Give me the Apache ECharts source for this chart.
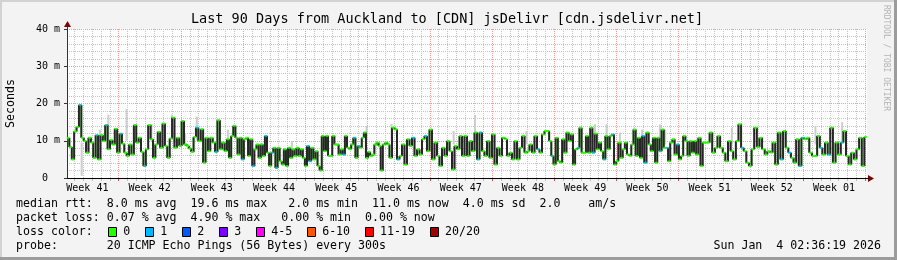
<!DOCTYPE html>
<html><head><meta charset="utf-8">
<script src="https://cdn.jsdelivr.net/npm/echarts@6/dist/echarts.min.js"></script>
<style>html,body{margin:0;padding:0;background:#f3f3f3;}#c{width:897px;height:260px;}</style>
</head><body><div id="c"></div>
<script>
// ---------- data ----------
const titleText = 'Last 90 Days from Auckland to [CDN] jsDelivr [cdn.jsdelivr.net]';
const weekLabels = ['Week 41','Week 42','Week 43','Week 44','Week 45','Week 46','Week 47','Week 48','Week 49','Week 50','Week 51','Week 52','Week 01'];
const yTickLabels = [' 0  ', '10 m', '20 m', '30 m', '40 m'];
// median rtt (ms), five consecutive 18-day segments
const segA = [10.8, 8.3, 5.0, 12.5, 13.7, 19.6, 10.8, 9.9, 6.8, 10.8,
 9.5, 5.4, 11.5, 5.0, 11.5, 9.9, 14.2, 7.7, 10.2, 9.0,
 13.2, 6.8, 11.9, 9.2, 6.8, 5.9, 9.0, 6.3, 14.2, 9.5,
 10.8, 7.0, 3.2, 7.7, 14.2, 10.4, 5.4, 9.0, 12.4, 8.1,
 14.6, 8.6, 5.4, 10.6, 16.2, 8.1, 10.8, 8.6, 15.3, 9.0,
 8.6, 7.9, 7.0, 11.0, 13.5, 9.9, 13.1, 4.1, 10.8, 7.2,
 10.8, 9.5, 7.0, 15.5, 7.7, 9.5, 7.2];
const segB = [10.4, 5.4, 11.3, 14.0, 10.8, 6.3, 10.8, 5.0, 10.4, 10.8,
 5.9, 10.4, 3.2, 7.7, 9.0, 5.4, 9.0, 5.9, 11.3, 6.8,
 3.2, 6.8, 8.1, 2.7, 8.1, 4.5, 3.6, 7.7, 3.2, 8.1,
 5.4, 7.7, 5.9, 8.1, 5.9, 7.7, 5.4, 3.2, 8.6, 4.5,
 8.1, 5.0, 7.2, 3.2, 2.0, 11.3, 7.2, 11.3, 5.9, 5.9,
 11.3, 9.0, 9.0, 6.3, 7.7, 6.3, 11.3, 8.1, 7.7, 9.0,
 10.8, 5.4, 8.6, 8.1, 10.8, 12.2, 5.4, 7.0, 5.9, 6.3,
 9.0, 9.5, 8.6, 2.0, 9.0, 9.5];
const segC = [9.0, 5.4, 13.5, 13.0, 5.0, 5.9, 9.0, 3.6, 10.4, 8.6,
 10.8, 5.9, 7.7, 6.3, 10.4, 11.3, 7.2, 13.0, 5.0, 9.5,
 5.9, 3.2, 8.1, 5.9, 9.9, 7.2, 2.3, 8.6, 7.7, 11.3,
 5.9, 11.3, 5.9, 9.9, 7.2, 12.2, 5.0, 12.2, 7.2, 5.9,
 9.9, 5.4, 11.7, 3.6, 8.1, 5.9, 10.8, 10.4, 5.9, 6.8,
 5.0, 9.9, 5.0, 8.1, 11.3, 6.8, 7.2, 9.0, 6.8, 11.3,
 7.7, 6.8, 11.7, 12.6];
const segD = [12.6, 9.9, 5.9, 3.6, 10.8, 4.5, 4.1, 10.4, 6.8, 12.2,
 9.9, 11.7, 3.6, 7.7, 8.1, 13.5, 6.8, 6.8, 11.3, 6.8,
 13.5, 6.8, 11.9, 7.7, 9.5, 7.2, 5.0, 11.3, 7.7, 11.3,
 11.7, 3.6, 4.5, 9.5, 5.4, 7.7, 9.5, 6.3, 5.9, 9.0,
 13.0, 5.9, 10.8, 5.4, 11.3, 4.1, 12.2, 9.0, 7.2, 10.8,
 4.1, 10.8, 7.2, 13.0, 8.1, 8.1, 4.5, 9.5, 10.4, 6.3,
 9.0, 5.0, 5.9, 11.3, 9.9, 5.9, 9.9, 6.8, 9.9, 6.3,
 10.8, 3.2, 9.5, 9.5];
const segE = [9.5, 12.2, 6.8, 8.1, 11.3, 8.1, 6.8, 4.5, 9.9, 7.2,
 5.0, 9.9, 14.4, 8.1, 7.2, 4.1, 3.2, 7.7, 13.5, 8.3,
 10.8, 7.7, 6.3, 7.2, 6.8, 9.5, 3.6, 12.2, 5.0, 12.6,
 8.1, 6.8, 5.4, 4.1, 10.4, 3.2, 10.8, 10.4, 10.8, 6.8,
 5.9, 5.9, 11.3, 8.1, 6.3, 9.5, 6.3, 13.5, 4.1, 9.5,
 6.3, 9.5, 12.6, 5.9, 3.6, 6.8, 5.0, 7.7, 10.8, 3.2,
 11.0];
// indices (within each segment) of samples with 1/20 packet loss
const lossA = [5, 12, 16, 22, 32, 54, 62];
const lossB = [7, 12, 18, 21, 23, 38, 39, 55, 60, 62];
const lossC = [4, 10, 15, 36, 37, 60];
const lossD = [2, 14, 21, 26, 30, 44, 45, 52, 55, 60];
const lossE = [13, 28, 31, 35, 36, 43, 46, 51];
// visible smoke (ping spread) spans
const smokeDay  = [1.65, 3.7, 4.65, 6.7, 9.5, 11.8, 13.3, 14.6, 18.1, 25.3, 33.7, 36.5, 43.5, 45.9, 51.7, 59.4, 60.7, 62.2, 64.7, 66.7, 67.3, 74.8, 84.2, 87.2];
const smokeLow  = [0.6, 10, 10, 10, 10, 12, 9, 10, 10, 7, 10, 10, 9, 10, 9, 10, 10, 9, 10, 10, 9, 9, 9, 10];
const smokeHigh = [9.5, 13, 17, 18.5, 14.5, 17, 12, 16.5, 13, 9.9, 14, 14.5, 12.6, 17, 12.6, 14.4, 14.4, 12.2, 13, 14.4, 13, 13.5, 14, 15];
const lossLabels = ['0', '1', '2', '3', '4-5', '6-10', '11-19', '20/20'];
const lossColors = ['#26ff00', '#00b8ff', '#0059ff', '#7e00ff', '#ff00ff', '#ff5500', '#ff0000', '#a10000'];
const statLines = [
  'median rtt:  8.0 ms avg  19.6 ms max   2.0 ms min  11.0 ms now  4.0 ms sd  2.0    am/s',
  'packet loss: 0.07 % avg  4.90 % max   0.00 % min  0.00 % now',
  'loss color:',
  'probe:       20 ICMP Echo Pings (56 Bytes) every 300s'
];
const stampText = 'Sun Jan  4 02:36:19 2026';
const watermark = 'RRDTOOL / TOBI OETIKER';

// ---------- build ----------
const TOTAL_DAYS = 90, SEG_DAYS = 18, TOTAL_HOURS = 2160;
const FIRST_WEEK_HOUR = 139; // first Monday boundary inside the window (hours from start)
const segments = [segA, segB, segC, segD, segE];
const losses = [lossA, lossB, lossC, lossD, lossE];
const median = [], green = [], blue = [];
segments.forEach((seg, k) => {
  seg.forEach((v, j) => {
    const t = k * SEG_DAYS + (j + 0.5) * SEG_DAYS / seg.length;
    median.push([t, v]);
    (losses[k].indexOf(j) >= 0 ? blue : green).push([t, v]);
  });
});
// vertical transitions between consecutive medians
const jumps = [];
for (let i = 1; i < median.length; i++) {
  const a = median[i - 1], b = median[i];
  jumps.push([(a[0] + b[0]) / 2, Math.min(a[1], b[1]), Math.max(a[1], b[1])]);
}
const smoke = smokeDay.map((d, i) => [d, smokeLow[i], smokeHigh[i]]);
const hours = [];
for (let h = 0; h <= TOTAL_HOURS; h++) hours.push(String(h));
const mod = (a, b) => ((a % b) + b) % b;
const isMid = i => mod(i - FIRST_WEEK_HOUR + 84, 168) === 0;
const dayLines = [], weekLines = [];
for (let h = mod(FIRST_WEEK_HOUR, 24); h <= TOTAL_HOURS; h += 24) {
  if (mod(h - FIRST_WEEK_HOUR, 168) === 0) weekLines.push([h / 24, 0]);
  else dayLines.push([h / 24, 0]);
}

const MONO = 'DejaVu Sans Mono';
const gridC = '#c4c4c4', mgridC = '#f09a9a';

const graphic = [
  {type:'rect', shape:{x:0,y:0,width:897,height:2}, style:{fill:'#d2d2d2'}, silent:true},
  {type:'rect', shape:{x:0,y:0,width:2,height:260}, style:{fill:'#d2d2d2'}, silent:true},
  {type:'rect', shape:{x:0,y:257,width:897,height:3}, style:{fill:'#9c9c9c'}, silent:true},
  {type:'rect', shape:{x:894,y:0,width:3,height:260}, style:{fill:'#9c9c9c'}, silent:true},
  {type:'text', x:447, y:19, style:{text:titleText, font:'13.5px "DejaVu Sans Mono"', fill:'#000', textAlign:'center', textVerticalAlign:'middle'}, silent:true},
  {type:'text', x:886, y:5, rotation:-Math.PI/2, style:{text:watermark, font:'8px "DejaVu Sans Mono"', fill:'#b4b4b4', textAlign:'left', textVerticalAlign:'middle'}, silent:true},
  {type:'polygon', shape:{points:[[64,27],[67.5,21],[71,27]]}, style:{fill:'#7f0000'}, silent:true},
  {type:'polygon', shape:{points:[[868,175],[874,178.5],[868,182]]}, style:{fill:'#7f0000'}, silent:true},
  {type:'line', shape:{x1:67.5,y1:26,x2:67.5,y2:29}, style:{stroke:'#333', lineWidth:1}, silent:true},
  {type:'line', shape:{x1:867,y1:178.5,x2:869,y2:178.5}, style:{stroke:'#000', lineWidth:1}, silent:true},
  {type:'text', x:881, y:246, style:{text:stampText, font:'11.6px "DejaVu Sans Mono"', fill:'#000', textAlign:'right', textVerticalAlign:'middle'}, silent:true}
];
const lineY = [204.3, 218.3, 232.3, 246];
statLines.forEach((s, i) => graphic.push({type:'text', x:16, y:lineY[i], style:{text:s, font:'11.6px "DejaVu Sans Mono"', fill:'#000', textAlign:'left', textVerticalAlign:'middle'}, silent:true}));
let bx = 108.3;
const CW = 6.98;
lossLabels.forEach((lab, i) => {
  graphic.push({type:'rect', shape:{x:Math.round(bx)+0.5, y:227.5, width:8, height:9}, style:{fill:lossColors[i], stroke:'#000', lineWidth:1}, silent:true});
  graphic.push({type:'text', x:bx + 15, y:232.3, style:{text:lab, font:'11.6px "DejaVu Sans Mono"', fill:'#000', textAlign:'left', textVerticalAlign:'middle'}, silent:true});
  bx += 15 + CW * lab.length + 15;
});

const gridRender = (color, tickColor) => (params, api) => {
  const cs = params.coordSys;
  const x = Math.round(api.coord([api.value(0), 0])[0]) + 0.5;
  return {type:'group', children:[
    {type:'line', shape:{x1:x, y1:cs.y, x2:x, y2:cs.y + cs.height}, style:{stroke:color, lineWidth:1, lineDash:[1,1]}},
    {type:'line', shape:{x1:x, y1:cs.y + cs.height + 1, x2:x, y2:cs.y + cs.height + 3}, style:{stroke:tickColor, lineWidth:1}}
  ]};
};

const option = {
  animation: false,
  backgroundColor: '#f3f3f3',
  grid: {left:67, top:29, width:800, height:149, show:true, backgroundColor:'#ffffff', borderWidth:0,
         containLabel:false, outerBoundsMode:'none'},
  xAxis: [
    {type:'value', min:0, max:TOTAL_DAYS, show:false, position:'bottom', splitLine:{show:false}},
    {type:'category', data:hours, boundaryGap:false, position:'bottom',
     axisLine:{show:true, lineStyle:{color:'#000', width:1}},
     axisTick:{show:false}, splitLine:{show:false},
     axisLabel:{show:true, interval:isMid, margin:5, fontFamily:MONO, fontSize:10, color:'#000',
       formatter:(v) => weekLabels[(Number(v) - FIRST_WEEK_HOUR + 84) / 168] || ''}}
  ],
  yAxis: {
    type:'value', min:0, max:40, interval:10,
    name:'Seconds', nameLocation:'middle', nameGap:50, nameRotate:90,
    nameTextStyle:{fontFamily:MONO, fontSize:11.6, color:'#000'},
    axisLine:{show:true, lineStyle:{color:'#333'}},
    axisTick:{show:true, length:3, lineStyle:{color:'#333'}},
    axisLabel:{margin:7, fontFamily:MONO, fontSize:10, color:'#000', formatter:(v) => yTickLabels[v / 10]},
    splitLine:{show:true, lineStyle:{color:mgridC, type:[1,1], width:1}},
    minorTick:{show:false, splitNumber:5},
    minorSplitLine:{show:true, lineStyle:{color:gridC, type:[1,1], width:1}}
  },
  graphic: graphic,
  series: [
    {type:'custom', name:'day grid', xAxisIndex:0, data:dayLines, silent:true, z:1, clip:false,
     renderItem:gridRender(gridC, '#bdbdbd')},
    {type:'custom', name:'week grid', xAxisIndex:0, data:weekLines, silent:true, z:1, clip:false,
     renderItem:gridRender(mgridC, '#e05050')},
    {type:'custom', name:'smoke', xAxisIndex:0, data:smoke, silent:true, z:2,
     renderItem:(params, api) => {
       const lo = api.coord([api.value(0), api.value(1)]);
       const hi = api.coord([api.value(0), api.value(2)]);
       return {type:'rect', shape:{x:lo[0]-1, y:hi[1], width:2, height:lo[1]-hi[1]}, style:{fill:'#cdcdcd'}};
     }},
    {type:'line', name:'median', xAxisIndex:0, data:median, step:'middle', symbol:'none', silent:true, z:3,
     lineStyle:{color:lossColors[0], width:1.5}},
    {type:'custom', name:'spread', xAxisIndex:0, data:jumps, silent:true, z:4,
     renderItem:(params, api) => {
       const lo = api.coord([api.value(0), api.value(1)]);
       const hi = api.coord([api.value(0), api.value(2)]);
       return {type:'rect', shape:{x:lo[0]-1, y:hi[1], width:2, height:lo[1]-hi[1]}, style:{fill:'#262626'}};
     }},
    {type:'scatter', name:'loss 0', xAxisIndex:0, data:green, symbol:'rect', symbolSize:[3,2], silent:true, z:5,
     itemStyle:{color:lossColors[0]}},
    {type:'scatter', name:'loss 1', xAxisIndex:0, data:blue, symbol:'rect', symbolSize:[3,2], silent:true, z:5,
     itemStyle:{color:lossColors[1]}}
  ]
};
const chart = echarts.init(document.getElementById('c'));
chart.setOption(option);
</script></body></html>
